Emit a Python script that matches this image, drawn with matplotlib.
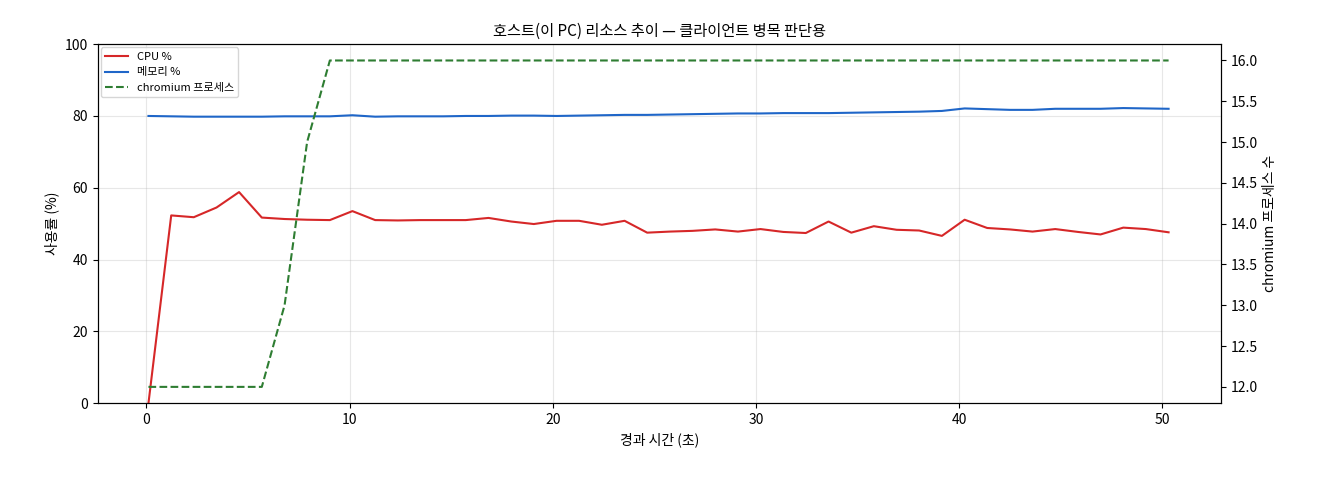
import matplotlib
matplotlib.use("Agg")
import matplotlib.pyplot as plt
import numpy as np

plt.rcParams['font.family'] = ['Noto Sans CJK KR', 'DejaVu Sans']

elapsed = [round(0.1 + i * 1.116, 2) for i in range(46)]
cpu = [0, 52.3, 51.8, 54.5, 58.8, 51.7, 51.3, 51.1, 51.0, 53.5, 51.0, 50.9, 51.0, 51.0, 51.0,
       51.6, 50.6, 49.9, 50.8, 50.8, 49.7, 50.8, 47.5, 47.8, 48.0, 48.4, 47.8, 48.5, 47.7, 47.4,
       50.6, 47.5, 49.3, 48.3, 48.1, 46.6, 51.1, 48.8, 48.4, 47.8, 48.5, 47.7, 47.0, 48.9, 48.5, 47.6]
mem = [80.0, 79.9, 79.8, 79.8, 79.8, 79.8, 79.9, 79.9, 79.9, 80.2, 79.8, 79.9, 79.9, 79.9, 80.0,
       80.0, 80.1, 80.1, 80.0, 80.1, 80.2, 80.3, 80.3, 80.4, 80.5, 80.6, 80.7, 80.7, 80.8, 80.8,
       80.8, 80.9, 81.0, 81.1, 81.2, 81.4, 82.1, 81.9, 81.7, 81.7, 82.0, 82.0, 82.0, 82.2, 82.1, 82.0]
procs = [12, 12, 12, 12, 12, 12, 13, 15, 16] + [16] * 37

fig, ax = plt.subplots(figsize=(13.2, 4.8), dpi=100)
l1, = ax.plot(elapsed, cpu, color='#d62728', lw=1.5, label='CPU %')
l2, = ax.plot(elapsed, mem, color='#1f66c8', lw=1.5, label='메모리 %')
ax.set_ylim(0, 100)
ax.set_xlim(-2.4, 52.9)
ax.set_xlabel('경과 시간 (초)')
ax.set_ylabel('사용률 (%)')
ax.grid(True, alpha=0.3)
ax2 = ax.twinx()
l3, = ax2.plot(elapsed, procs, color='#2e7d32', lw=1.5, ls='--', label='chromium 프로세스')
ax2.set_ylabel('chromium 프로세스 수')
ax.set_title('호스트(이 PC) 리소스 추이 — 클라이언트 병목 판단용', fontsize=11)
ax.legend(handles=[l1, l2, l3], loc='upper left', fontsize=8, borderaxespad=0.3)
fig.subplots_adjust(left=0.074, right=0.925, top=0.908, bottom=0.16)
fig.savefig('out.png')
